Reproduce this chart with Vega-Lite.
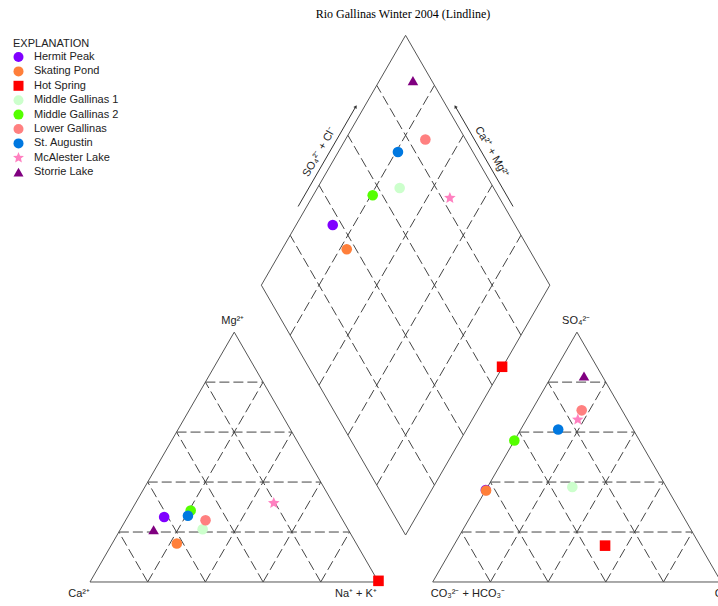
{
  "$schema": "https://vega.github.io/schema/vega-lite/v6.json",
  "width": 718,
  "height": 606,
  "autosize": {"type": "fit", "contains": "padding"},
  "padding": 0,
  "background": "white",
  "config": {"view": {"stroke": null}, "font": "Liberation Sans"},
  "datasets": {
    "edges": [
      {"x": 0, "y": 0, "x2": 100, "y2": 0},
      {"x": 100, "y": 0, "x2": 50, "y2": 86.6},
      {"x": 50, "y": 86.6, "x2": 0, "y2": 0},
      {"x": 118.8, "y": 0, "x2": 218.8, "y2": 0},
      {"x": 218.8, "y": 0, "x2": 168.8, "y2": 86.6},
      {"x": 168.8, "y": 86.6, "x2": 118.8, "y2": 0},
      {"x": 109.4, "y": 16.28, "x2": 59.4, "y2": 102.88},
      {"x": 59.4, "y": 102.88, "x2": 109.4, "y2": 189.48},
      {"x": 109.4, "y": 189.48, "x2": 159.4, "y2": 102.88},
      {"x": 159.4, "y": 102.88, "x2": 109.4, "y2": 16.28}
    ],
    "grid": [
      {"x": 10, "y": 17.32, "x2": 90, "y2": 17.32},
      {"x": 20, "y": 34.64, "x2": 80, "y2": 34.64},
      {"x": 30, "y": 51.96, "x2": 70, "y2": 51.96},
      {"x": 40, "y": 69.28, "x2": 60, "y2": 69.28},
      {"x": 20, "y": 0, "x2": 60, "y2": 69.28},
      {"x": 40, "y": 0, "x2": 70, "y2": 51.96},
      {"x": 60, "y": 0, "x2": 80, "y2": 34.64},
      {"x": 80, "y": 0, "x2": 90, "y2": 17.32},
      {"x": 80, "y": 0, "x2": 40, "y2": 69.28},
      {"x": 60, "y": 0, "x2": 30, "y2": 51.96},
      {"x": 40, "y": 0, "x2": 20, "y2": 34.64},
      {"x": 20, "y": 0, "x2": 10, "y2": 17.32},
      {"x": 128.8, "y": 17.32, "x2": 208.8, "y2": 17.32},
      {"x": 138.8, "y": 34.64, "x2": 198.8, "y2": 34.64},
      {"x": 148.8, "y": 51.96, "x2": 188.8, "y2": 51.96},
      {"x": 158.8, "y": 69.28, "x2": 178.8, "y2": 69.28},
      {"x": 138.8, "y": 0, "x2": 178.8, "y2": 69.28},
      {"x": 158.8, "y": 0, "x2": 188.8, "y2": 51.96},
      {"x": 178.8, "y": 0, "x2": 198.8, "y2": 34.64},
      {"x": 198.8, "y": 0, "x2": 208.8, "y2": 17.32},
      {"x": 198.8, "y": 0, "x2": 158.8, "y2": 69.28},
      {"x": 178.8, "y": 0, "x2": 148.8, "y2": 51.96},
      {"x": 158.8, "y": 0, "x2": 138.8, "y2": 34.64},
      {"x": 138.8, "y": 0, "x2": 128.8, "y2": 17.32},
      {"x": 99.4, "y": 33.6, "x2": 149.4, "y2": 120.2},
      {"x": 89.4, "y": 50.92, "x2": 139.4, "y2": 137.52},
      {"x": 79.4, "y": 68.24, "x2": 129.4, "y2": 154.84},
      {"x": 69.4, "y": 85.56, "x2": 119.4, "y2": 172.16},
      {"x": 119.4, "y": 33.6, "x2": 69.4, "y2": 120.2},
      {"x": 129.4, "y": 50.92, "x2": 79.4, "y2": 137.52},
      {"x": 139.4, "y": 68.24, "x2": 89.4, "y2": 154.84},
      {"x": 149.4, "y": 85.56, "x2": 99.4, "y2": 172.16}
    ],
    "arrows": [
      {"x": 72.15, "y": 130.16, "x2": 92.15, "y2": 164.8},
      {"x": 146.65, "y": 130.16, "x2": 126.65, "y2": 164.8}
    ],
    "headLeft": [{"x": 92.15, "y": 164.8}],
    "headRight": [{"x": 126.65, "y": 164.8}],
    "labels": [
      {"text": "Mg²⁺", "x": 49.5, "y": 89.4},
      {"text": "Ca²⁺", "x": -3.8, "y": -5.2},
      {"text": "Na⁺ + K⁺", "x": 92.2, "y": -5.2},
      {"text": "SO₄²⁻", "x": 168.5, "y": 89.4},
      {"text": "CO₃²⁻ + HCO₃⁻", "x": 131.0, "y": -5.2},
      {"text": "Cl⁻", "x": 219.1, "y": -5.2}
    ],
    "titleRow": [{"text": "Rio Gallinas Winter 2004 (Lindline)", "x": 108.5, "y": 195.6}],
    "leftAxisLabel": [{"text": "SO₄²⁻ + Cl⁻", "x": 79.55, "y": 148.98}],
    "rightAxisLabel": [{"text": "Ca²⁺ + Mg²⁺", "x": 139.25, "y": 148.98}],
    "samples": [
      {"sample": "Hermit Peak", "panel": "cation", "x": 25.7, "y": 22.52},
      {"sample": "Hermit Peak", "panel": "anion", "x": 137.2, "y": 31.87},
      {"sample": "Hermit Peak", "panel": "diamond", "x": 84.15, "y": 123.75},
      {"sample": "Skating Pond", "panel": "cation", "x": 30.1, "y": 13.34},
      {"sample": "Skating Pond", "panel": "anion", "x": 137.3, "y": 31.7},
      {"sample": "Skating Pond", "panel": "diamond", "x": 89.0, "y": 115.35},
      {"sample": "Hot Spring", "panel": "cation", "x": 100, "y": 0.4},
      {"sample": "Hot Spring", "panel": "anion", "x": 178.55, "y": 12.6},
      {"sample": "Hot Spring", "panel": "diamond", "x": 142.85, "y": 74.6},
      {"sample": "Middle Gallinas 1", "panel": "cation", "x": 39.05, "y": 18.27},
      {"sample": "Middle Gallinas 1", "panel": "anion", "x": 167.2, "y": 32.91},
      {"sample": "Middle Gallinas 1", "panel": "diamond", "x": 107.35, "y": 136.57},
      {"sample": "Middle Gallinas 2", "panel": "cation", "x": 34.9, "y": 24.77},
      {"sample": "Middle Gallinas 2", "panel": "anion", "x": 147.1, "y": 49.02},
      {"sample": "Middle Gallinas 2", "panel": "diamond", "x": 98.0, "y": 134.06},
      {"sample": "Lower Gallinas", "panel": "cation", "x": 40.05, "y": 21.39},
      {"sample": "Lower Gallinas", "panel": "anion", "x": 170.45, "y": 59.49},
      {"sample": "Lower Gallinas", "panel": "diamond", "x": 116.25, "y": 153.37},
      {"sample": "St. Augustin", "panel": "cation", "x": 33.95, "y": 22.95},
      {"sample": "St. Augustin", "panel": "anion", "x": 162.3, "y": 52.83},
      {"sample": "St. Augustin", "panel": "diamond", "x": 106.75, "y": 149.04},
      {"sample": "McAlester Lake", "panel": "cation", "x": 63.7, "y": 27.37},
      {"sample": "McAlester Lake", "panel": "anion", "x": 169.1, "y": 56.29},
      {"sample": "McAlester Lake", "panel": "diamond", "x": 124.75, "y": 133.1},
      {"sample": "Storrie Lake", "panel": "cation", "x": 22.05, "y": 18.1},
      {"sample": "Storrie Lake", "panel": "anion", "x": 171.25, "y": 71.4},
      {"sample": "Storrie Lake", "panel": "diamond", "x": 111.95, "y": 173.8}
    ]
  },
  "encoding": {
    "x": {"field": "x", "type": "quantitative", "scale": {"domain": [-31.2, 217.7], "nice": false, "zero": false}, "axis": null},
    "y": {"field": "y", "type": "quantitative", "scale": {"domain": [-8.32, 201.73], "nice": false, "zero": false}, "axis": null}
  },
  "layer": [
    {
      "data": {"name": "grid"},
      "mark": {"type": "rule", "color": "#444444", "strokeWidth": 1, "strokeDash": [10, 4], "clip": true},
      "encoding": {"x2": {"field": "x2"}, "y2": {"field": "y2"}}
    },
    {
      "data": {"name": "edges"},
      "mark": {"type": "rule", "color": "#555555", "strokeWidth": 1, "clip": true},
      "encoding": {"x2": {"field": "x2"}, "y2": {"field": "y2"}}
    },
    {
      "data": {"name": "arrows"},
      "mark": {"type": "rule", "color": "#333333", "strokeWidth": 1},
      "encoding": {"x2": {"field": "x2"}, "y2": {"field": "y2"}}
    },
    {
      "data": {"name": "headLeft"},
      "mark": {"type": "point", "shape": "triangle-up", "filled": true, "color": "#333333", "opacity": 1, "size": 14, "angle": 30}
    },
    {
      "data": {"name": "headRight"},
      "mark": {"type": "point", "shape": "triangle-up", "filled": true, "color": "#333333", "opacity": 1, "size": 14, "angle": 330}
    },
    {
      "data": {"name": "labels"},
      "mark": {"type": "text", "align": "center", "baseline": "alphabetic", "fontSize": 11, "font": "Liberation Sans", "color": "#222222", "clip": true},
      "encoding": {"text": {"field": "text"}}
    },
    {
      "data": {"name": "titleRow"},
      "mark": {"type": "text", "align": "center", "baseline": "alphabetic", "fontSize": 12, "font": "Liberation Serif", "color": "#000000"},
      "encoding": {"text": {"field": "text"}}
    },
    {
      "data": {"name": "leftAxisLabel"},
      "mark": {"type": "text", "align": "center", "baseline": "middle", "fontSize": 11, "font": "Liberation Sans", "color": "#222222", "angle": 300},
      "encoding": {"text": {"field": "text"}}
    },
    {
      "data": {"name": "rightAxisLabel"},
      "mark": {"type": "text", "align": "center", "baseline": "middle", "fontSize": 11, "font": "Liberation Sans", "color": "#222222", "angle": 60},
      "encoding": {"text": {"field": "text"}}
    },
    {
      "data": {"name": "samples"},
      "mark": {"type": "point", "filled": true, "opacity": 1, "size": 112, "strokeWidth": 0},
      "encoding": {
        "color": {
          "field": "sample", "type": "nominal",
          "scale": {
            "domain": ["Hermit Peak", "Skating Pond", "Hot Spring", "Middle Gallinas 1", "Middle Gallinas 2", "Lower Gallinas", "St. Augustin", "McAlester Lake", "Storrie Lake"],
            "range": ["#8000ff", "#ff7f3a", "#ff0000", "#ccffcc", "#55ff00", "#ff8080", "#0078e0", "#ff80c0", "#800080"]
          },
          "legend": {"title": "EXPLANATION", "orient": "none", "legendX": 13, "legendY": 37.5, "padding": 0, "titleFontSize": 11, "titleFontWeight": "normal", "titleColor": "#222222", "titleFont": "Liberation Sans", "titlePadding": 3, "labelFontSize": 11, "labelFont": "Liberation Sans", "labelColor": "#222222", "symbolSize": 100, "symbolStrokeWidth": 0, "symbolOpacity": 1, "rowPadding": 2.4, "labelOffset": 10}
        },
        "shape": {
          "field": "sample", "type": "nominal",
          "scale": {
            "domain": ["Hermit Peak", "Skating Pond", "Hot Spring", "Middle Gallinas 1", "Middle Gallinas 2", "Lower Gallinas", "St. Augustin", "McAlester Lake", "Storrie Lake"],
            "range": ["circle", "circle", "square", "circle", "circle", "circle", "circle", "M0,-1.15L0.304,-0.419L1.094,-0.355L0.492,0.16L0.676,0.93L0,0.518L-0.676,0.93L-0.492,0.16L-1.094,-0.355L-0.304,-0.419Z", "triangle-up"]
          },
          "legend": {"title": "EXPLANATION", "orient": "none", "legendX": 13, "legendY": 37.5, "padding": 0, "titleFontSize": 11, "titleFontWeight": "normal", "titleColor": "#222222", "titleFont": "Liberation Sans", "titlePadding": 3, "labelFontSize": 11, "labelFont": "Liberation Sans", "labelColor": "#222222", "symbolSize": 100, "symbolStrokeWidth": 0, "symbolOpacity": 1, "rowPadding": 2.4, "labelOffset": 10}
        }
      }
    }
  ]
}
